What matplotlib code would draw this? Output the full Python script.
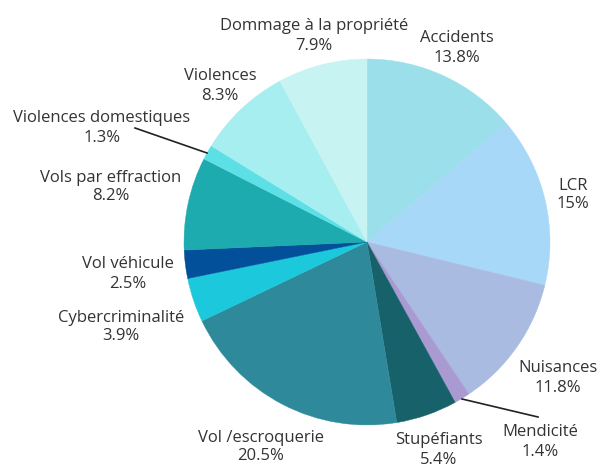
import matplotlib.pyplot as plt

plt.rcParams['font.family'] = ['Open Sans', 'DejaVu Sans']

categories = ['Accidents', 'LCR', 'Nuisances', 'Mendicité', 'Stupéfiants',
              'Vol /escroquerie', 'Cybercriminalité', 'Vol véhicule',
              'Vols par effraction', 'Violences domestiques', 'Violences',
              'Dommage à la propriété']
values = [13.8, 15, 11.8, 1.4, 5.4, 20.5, 3.9, 2.5, 8.2, 1.3, 8.3, 7.9]
value_labels = ['13.8%', '15%', '11.8%', '1.4%', '5.4%', '20.5%', '3.9%',
                '2.5%', '8.2%', '1.3%', '8.3%', '7.9%']

colors = ['#9adfea', '#a8d8f8', '#a9bbe0', '#a99bd2', '#17616b', '#2e8a9a',
          '#1cc8db', '#02509a', '#1eabb0', '#5ce0e6', '#a6eef0', '#c8f3f3']

# label centres in pixel coords (x, y from top)
label_pos = [(457, 48), (573, 195), (558, 378), (540, 442), (439, 450),
             (261, 447), (121, 327), (128, 274), (111, 187), (102, 128),
             (220, 86), (314, 36)]

W, H = 600, 466
fig = plt.figure(figsize=(6, 4.66), dpi=100)
ax = fig.add_axes([0, 0, 1, 1])

cx, cy, r = 367, H - 242, 183
wedges, _ = ax.pie(values, colors=colors, startangle=90, counterclock=False,
                   center=(cx, cy), radius=r, frame=True)
for w in wedges:
    w.set_edgecolor(w.get_facecolor())
    w.set_linewidth(0.3)
ax.set_xlim(0, W)
ax.set_ylim(0, H)
ax.set_aspect('equal')
ax.axis('off')

for name, lab, (x, y) in zip(categories, value_labels, label_pos):
    ax.text(x, H - y, name + '\n' + lab, ha='center', va='center',
            fontsize=12, color='#333333', linespacing=1.25)

# leader lines for the thin slices
ax.plot([135, 207], [H - 128, H - 153], color='#222222', lw=1.2)
ax.plot([462, 538], [H - 399, H - 417], color='#222222', lw=1.2)

fig.savefig('out.png', dpi=100)
